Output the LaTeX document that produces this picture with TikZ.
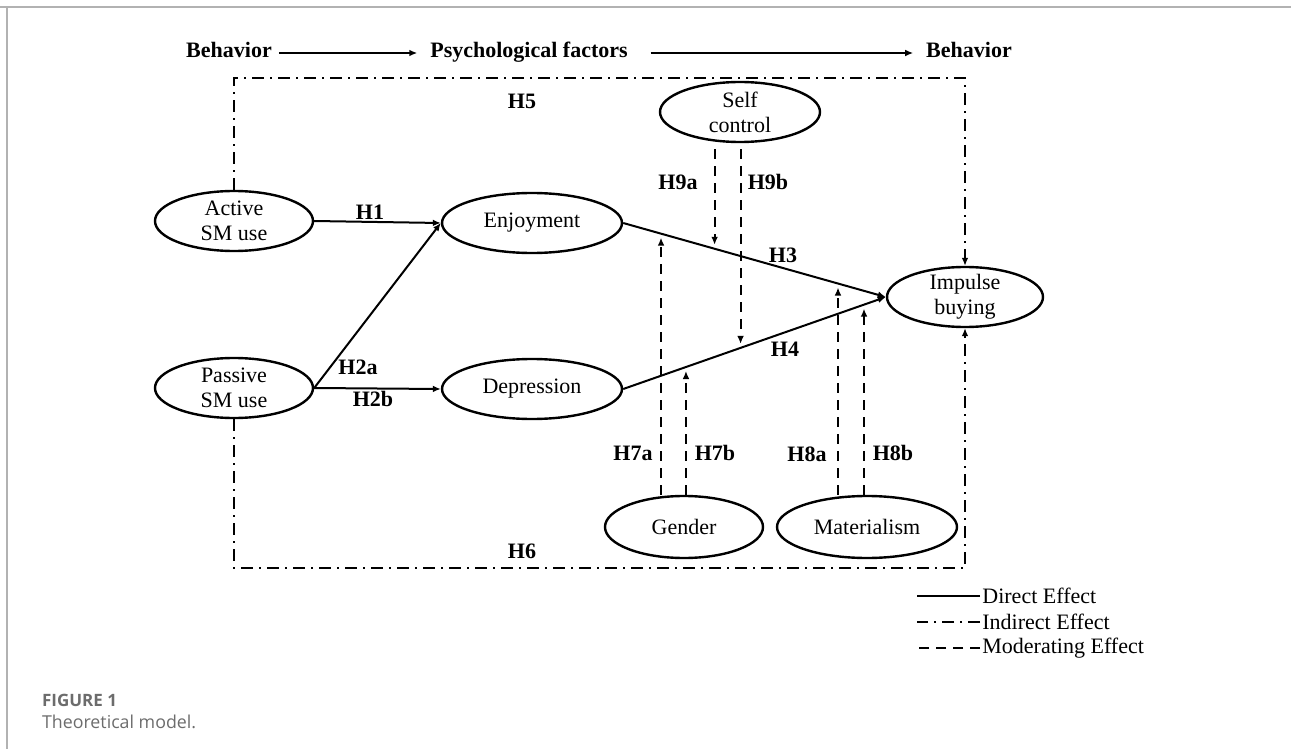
\documentclass[tikz,border=0pt]{standalone}
\usepackage{fontspec}
\setmainfont{Liberation Serif}
\newfontfamily\capfont{Open Sans}
\usetikzlibrary{shapes.geometric,arrows.meta}

\begin{document}
\begin{tikzpicture}[x=0.5pt,y=-0.5pt,
  >={Latex[length=4pt,width=3.4pt]},
  every node/.style={font=\fontsize{11}{12.5}\selectfont},
  construct/.style={draw,ellipse,line width=1.2pt,inner xsep=0pt,inner ysep=-2pt,
    align=center,minimum height=30pt,minimum width=#1},
  construct/.default=79pt,
  head/.style={font=\fontsize{11}{12.5}\selectfont\bfseries,text height=7.5pt,text depth=2.5pt},
  hyp/.style={font=\fontsize{11}{12.5}\selectfont\bfseries,inner sep=1pt},
  direct/.style={line width=1pt},
  indirect/.style={line width=1pt,dash pattern=on 6pt off 3pt on 1pt off 3pt},
  moder/.style={line width=1pt,dash pattern=on 5pt off 3.5pt}]
\useasboundingbox (0,0) rectangle (1291,749);
\draw[gray!60,line width=1pt] (0,7) -- (1291,7);
\draw[gray!60,line width=1pt] (7,7) -- (7,749);

\node[head] (beh1) at (229,53) {Behavior};
\node[head] (psy) at (529,53) {Psychological factors};
\node[head] (beh2) at (969,53) {Behavior};
\draw[direct,->,shorten >=3pt] (beh1) -- (psy);
\draw[direct,->,shorten <=8pt,shorten >=3pt] (psy) -- (beh2);

\node[construct] (act) at (234,221) {Active\\SM use};
\node[construct] (pas) at (234,388) {Passive\\SM use};
\node[construct=90pt] (enj) at (532,223) {Enjoyment};
\node[construct=90pt] (dep) at (532,389) {Depression};
\node[construct=80pt] (self) at (740,112) {Self\\control};
\node[construct=78pt] (imp) at (965,297) {Impulse\\buying};
\node[construct,minimum height=31pt] (gen) at (684,527) {Gender};
\node[construct=90pt,minimum height=31pt] (mat) at (867,527) {Materialism};

\coordinate (boxtop) at (0,78);
\coordinate (boxbot) at (0,568);
\draw[indirect,->] (act.north) -- (act.north |- boxtop) -- (imp.north |- boxtop) -- (imp.north);
\draw[indirect,->] (pas.south) -- (pas.south |- boxbot) -- (imp.south |- boxbot) -- (imp.south);

\draw[direct,->] (act.east) -- (enj.west);
\draw[direct,->] (pas.east) -- (enj.west);
\draw[direct,->] (pas.east) -- (dep.west);
\draw[direct,->] (enj.east) -- coordinate[pos=0.144] (m7a) coordinate[pos=0.348] (m9a)
  coordinate[pos=0.818] (m8a) (imp.west);
\draw[direct,->] (dep.east) -- coordinate[pos=0.239] (m7b) coordinate[pos=0.447] (m9b)
  coordinate[pos=0.917] (m8b) (imp.west);

\draw[moder,->,shorten <=3pt,shorten >=2pt] (self.south -| m9a) -- (m9a);
\draw[moder,->,shorten <=3pt,shorten >=2pt] (self.south -| m9b) -- (m9b);
\draw[moder,->,shorten >=2pt] (gen.north -| m7a) -- (m7a);
\draw[moder,->,shorten >=2pt] (gen.north -| m7b) -- (m7b);
\draw[moder,->,shorten >=2pt] (mat.north -| m8a) -- (m8a);
\draw[moder,->,shorten >=2pt] (mat.north -| m8b) -- (m8b);

\node[hyp] (h1) at (370,212) {H1};
\node[hyp] (h2a) at (358,367) {H2a};
\node[hyp] (h2b) at (373,399) {H2b};
\node[hyp] (h3) at (783,255) {H3};
\node[hyp] (h4) at (785,349) {H4};
\node[hyp] (h5) at (522,101) {H5};
\node[hyp] (h6) at (522,551) {H6};
\node[hyp] (h7a) at (633,453) {H7a};
\node[hyp] (h7b) at (715,453) {H7b};
\node[hyp] (h8a) at (807,454) {H8a};
\node[hyp] (h8b) at (893,453) {H8b};
\node[hyp] (h9a) at (678,182) {H9a};
\node[hyp] (h9b) at (768,182) {H9b};

\node[anchor=west,inner sep=1pt] (ldir) at (980,596) {Direct Effect};
\node[anchor=west,inner sep=1pt] (lind) at (980,622) {Indirect Effect};
\node[anchor=west,inner sep=1pt] (lmod) at (980,648) {Moderating Effect};
\draw[direct] (ldir.west) -- ++(-63,0);
\draw[indirect] (lind.west) -- ++(-63,0);
\draw[moder] (lmod.west) -- ++(-63,0);

\node[anchor=west,text=gray!85!black,font=\capfont\fontsize{8.5}{10}\selectfont\bfseries] (fig) at (35,700) {FIGURE 1};
\node[anchor=west,text=gray!85!black,font=\capfont\fontsize{8.9}{11}\selectfont] (cap) at (35,722) {Theoretical model.};
\end{tikzpicture}
\end{document}
